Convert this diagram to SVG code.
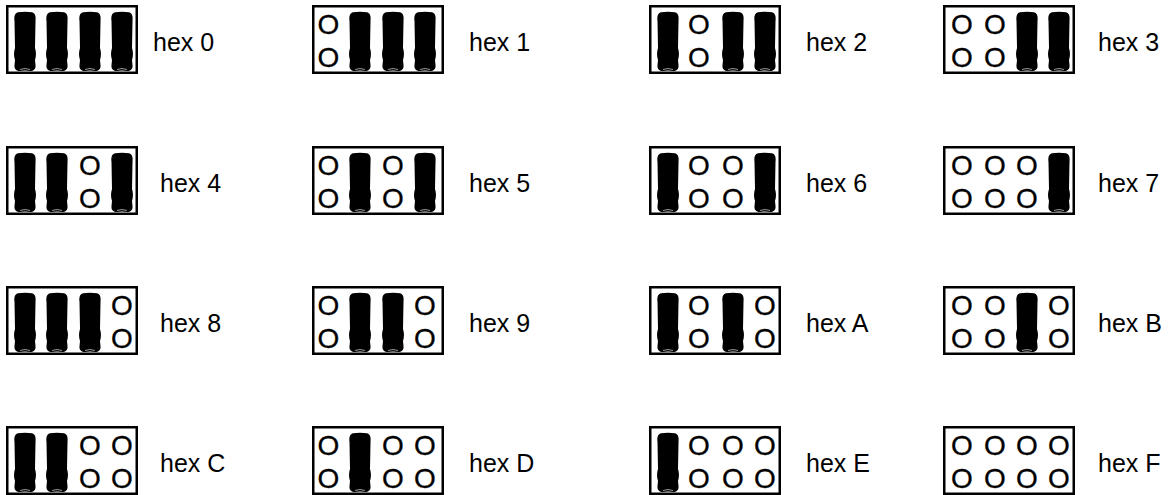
<svg xmlns="http://www.w3.org/2000/svg" xmlns:xlink="http://www.w3.org/1999/xlink" width="1173" height="495" viewBox="0 0 1173 495">
<style>
.box{fill:#fff;stroke:#000;stroke-width:2.5}
.lbl{font-family:"Liberation Sans",Arial,sans-serif;font-size:25px;fill:#000}
.o{font-family:"Liberation Sans",Arial,sans-serif;font-size:28px;fill:#000;stroke:#000;stroke-width:0.3;text-anchor:middle}
</style>
<defs>
<g id="bar">
<path d="M -7,0.3 C -3,-0.6 3,-0.6 7,0.3 C 10.5,1.2 11,5 10.5,9 L 10,36 C 11.3,40 11.3,44 10,48 L 10.5,53 C 11,57 8.5,59 5,59 C 2,58.3 -2,58.3 -5,59 C -8.5,59 -11,57 -10.5,53 L -10,48 C -11.3,44 -11.3,40 -10,36 L -10.5,9 C -11,5 -10.5,1.2 -7,0.3 Z" fill="#000"/>
<path d="M -5,57.5 Q 0,55.5 5,57.5" fill="none" stroke="#fff" stroke-width="0.6"/>
</g>
</defs>
<rect width="1173" height="495" fill="#fff"/>

<g id="hex0"><rect class="box" x="7.25" y="6.25" width="129.5" height="66.5"/>
<use xlink:href="#bar" x="25" y="12"/><use xlink:href="#bar" x="57" y="12"/><use xlink:href="#bar" x="90" y="12"/><use xlink:href="#bar" x="122" y="12"/>
<text class="lbl" x="153" y="51">hex 0</text></g>

<g id="hex1"><rect class="box" x="313.25" y="6.25" width="129.5" height="66.5"/>
<text class="o" x="328.5" y="33.5">O</text><text class="o" x="328.5" y="66.5">O</text>
<use xlink:href="#bar" x="360" y="12"/><use xlink:href="#bar" x="393" y="12"/><use xlink:href="#bar" x="425" y="12"/>
<text class="lbl" x="469" y="51">hex 1</text></g>

<g id="hex2"><rect class="box" x="650.25" y="6.25" width="129.5" height="66.5"/>
<use xlink:href="#bar" x="668" y="12"/>
<text class="o" x="699" y="33.5">O</text><text class="o" x="699" y="66.5">O</text>
<use xlink:href="#bar" x="733" y="12"/><use xlink:href="#bar" x="765" y="12"/>
<text class="lbl" x="806" y="51">hex 2</text></g>

<g id="hex3"><rect class="box" x="944.25" y="6.25" width="129.5" height="66.5"/>
<text class="o" x="962" y="33.5">O</text><text class="o" x="962" y="66.5">O</text>
<text class="o" x="995" y="33.5">O</text><text class="o" x="995" y="66.5">O</text>
<use xlink:href="#bar" x="1027" y="12"/><use xlink:href="#bar" x="1059" y="12"/>
<text class="lbl" x="1098" y="51">hex 3</text></g>

<g id="hex4"><rect class="box" x="7.25" y="147.25" width="129.5" height="66.5"/>
<use xlink:href="#bar" x="25" y="153"/><use xlink:href="#bar" x="57" y="153"/>
<text class="o" x="90" y="174.5">O</text><text class="o" x="90" y="207.5">O</text>
<use xlink:href="#bar" x="122" y="153"/>
<text class="lbl" x="160" y="192">hex 4</text></g>

<g id="hex5"><rect class="box" x="313.25" y="147.25" width="129.5" height="66.5"/>
<text class="o" x="328.5" y="174.5">O</text><text class="o" x="328.5" y="207.5">O</text>
<use xlink:href="#bar" x="360" y="153"/>
<text class="o" x="393" y="174.5">O</text><text class="o" x="393" y="207.5">O</text>
<use xlink:href="#bar" x="425" y="153"/>
<text class="lbl" x="469" y="192">hex 5</text></g>

<g id="hex6"><rect class="box" x="650.25" y="147.25" width="129.5" height="66.5"/>
<use xlink:href="#bar" x="668" y="153"/>
<text class="o" x="699" y="174.5">O</text><text class="o" x="699" y="207.5">O</text>
<text class="o" x="733" y="174.5">O</text><text class="o" x="733" y="207.5">O</text>
<use xlink:href="#bar" x="765" y="153"/>
<text class="lbl" x="806" y="192">hex 6</text></g>

<g id="hex7"><rect class="box" x="944.25" y="147.25" width="129.5" height="66.5"/>
<text class="o" x="962" y="174.5">O</text><text class="o" x="962" y="207.5">O</text>
<text class="o" x="995" y="174.5">O</text><text class="o" x="995" y="207.5">O</text>
<text class="o" x="1027" y="174.5">O</text><text class="o" x="1027" y="207.5">O</text>
<use xlink:href="#bar" x="1059" y="153"/>
<text class="lbl" x="1098" y="192">hex 7</text></g>

<g id="hex8"><rect class="box" x="7.25" y="287.25" width="129.5" height="66.5"/>
<use xlink:href="#bar" x="25" y="293"/><use xlink:href="#bar" x="57" y="293"/><use xlink:href="#bar" x="90" y="293"/>
<text class="o" x="122" y="314.5">O</text><text class="o" x="122" y="347.5">O</text>
<text class="lbl" x="160" y="332">hex 8</text></g>

<g id="hex9"><rect class="box" x="313.25" y="287.25" width="129.5" height="66.5"/>
<text class="o" x="328.5" y="314.5">O</text><text class="o" x="328.5" y="347.5">O</text>
<use xlink:href="#bar" x="360" y="293"/><use xlink:href="#bar" x="393" y="293"/>
<text class="o" x="425" y="314.5">O</text><text class="o" x="425" y="347.5">O</text>
<text class="lbl" x="469" y="332">hex 9</text></g>

<g id="hexA"><rect class="box" x="650.25" y="287.25" width="129.5" height="66.5"/>
<use xlink:href="#bar" x="668" y="293"/>
<text class="o" x="699" y="314.5">O</text><text class="o" x="699" y="347.5">O</text>
<use xlink:href="#bar" x="733" y="293"/>
<text class="o" x="765" y="314.5">O</text><text class="o" x="765" y="347.5">O</text>
<text class="lbl" x="806" y="332">hex A</text></g>

<g id="hexB"><rect class="box" x="944.25" y="287.25" width="129.5" height="66.5"/>
<text class="o" x="962" y="314.5">O</text><text class="o" x="962" y="347.5">O</text>
<text class="o" x="995" y="314.5">O</text><text class="o" x="995" y="347.5">O</text>
<use xlink:href="#bar" x="1027" y="293"/>
<text class="o" x="1059" y="314.5">O</text><text class="o" x="1059" y="347.5">O</text>
<text class="lbl" x="1098" y="332">hex B</text></g>

<g id="hexC"><rect class="box" x="7.25" y="427.25" width="129.5" height="66.5"/>
<use xlink:href="#bar" x="25" y="433"/><use xlink:href="#bar" x="57" y="433"/>
<text class="o" x="90" y="454.5">O</text><text class="o" x="90" y="487.5">O</text>
<text class="o" x="122" y="454.5">O</text><text class="o" x="122" y="487.5">O</text>
<text class="lbl" x="160" y="472">hex C</text></g>

<g id="hexD"><rect class="box" x="313.25" y="427.25" width="129.5" height="66.5"/>
<text class="o" x="328.5" y="454.5">O</text><text class="o" x="328.5" y="487.5">O</text>
<use xlink:href="#bar" x="360" y="433"/>
<text class="o" x="393" y="454.5">O</text><text class="o" x="393" y="487.5">O</text>
<text class="o" x="425" y="454.5">O</text><text class="o" x="425" y="487.5">O</text>
<text class="lbl" x="469" y="472">hex D</text></g>

<g id="hexE"><rect class="box" x="650.25" y="427.25" width="129.5" height="66.5"/>
<use xlink:href="#bar" x="668" y="433"/>
<text class="o" x="699" y="454.5">O</text><text class="o" x="699" y="487.5">O</text>
<text class="o" x="733" y="454.5">O</text><text class="o" x="733" y="487.5">O</text>
<text class="o" x="765" y="454.5">O</text><text class="o" x="765" y="487.5">O</text>
<text class="lbl" x="806" y="472">hex E</text></g>

<g id="hexF"><rect class="box" x="944.25" y="427.25" width="129.5" height="66.5"/>
<text class="o" x="962" y="454.5">O</text><text class="o" x="962" y="487.5">O</text>
<text class="o" x="995" y="454.5">O</text><text class="o" x="995" y="487.5">O</text>
<text class="o" x="1027" y="454.5">O</text><text class="o" x="1027" y="487.5">O</text>
<text class="o" x="1059" y="454.5">O</text><text class="o" x="1059" y="487.5">O</text>
<text class="lbl" x="1098" y="472">hex F</text></g>
</svg>
